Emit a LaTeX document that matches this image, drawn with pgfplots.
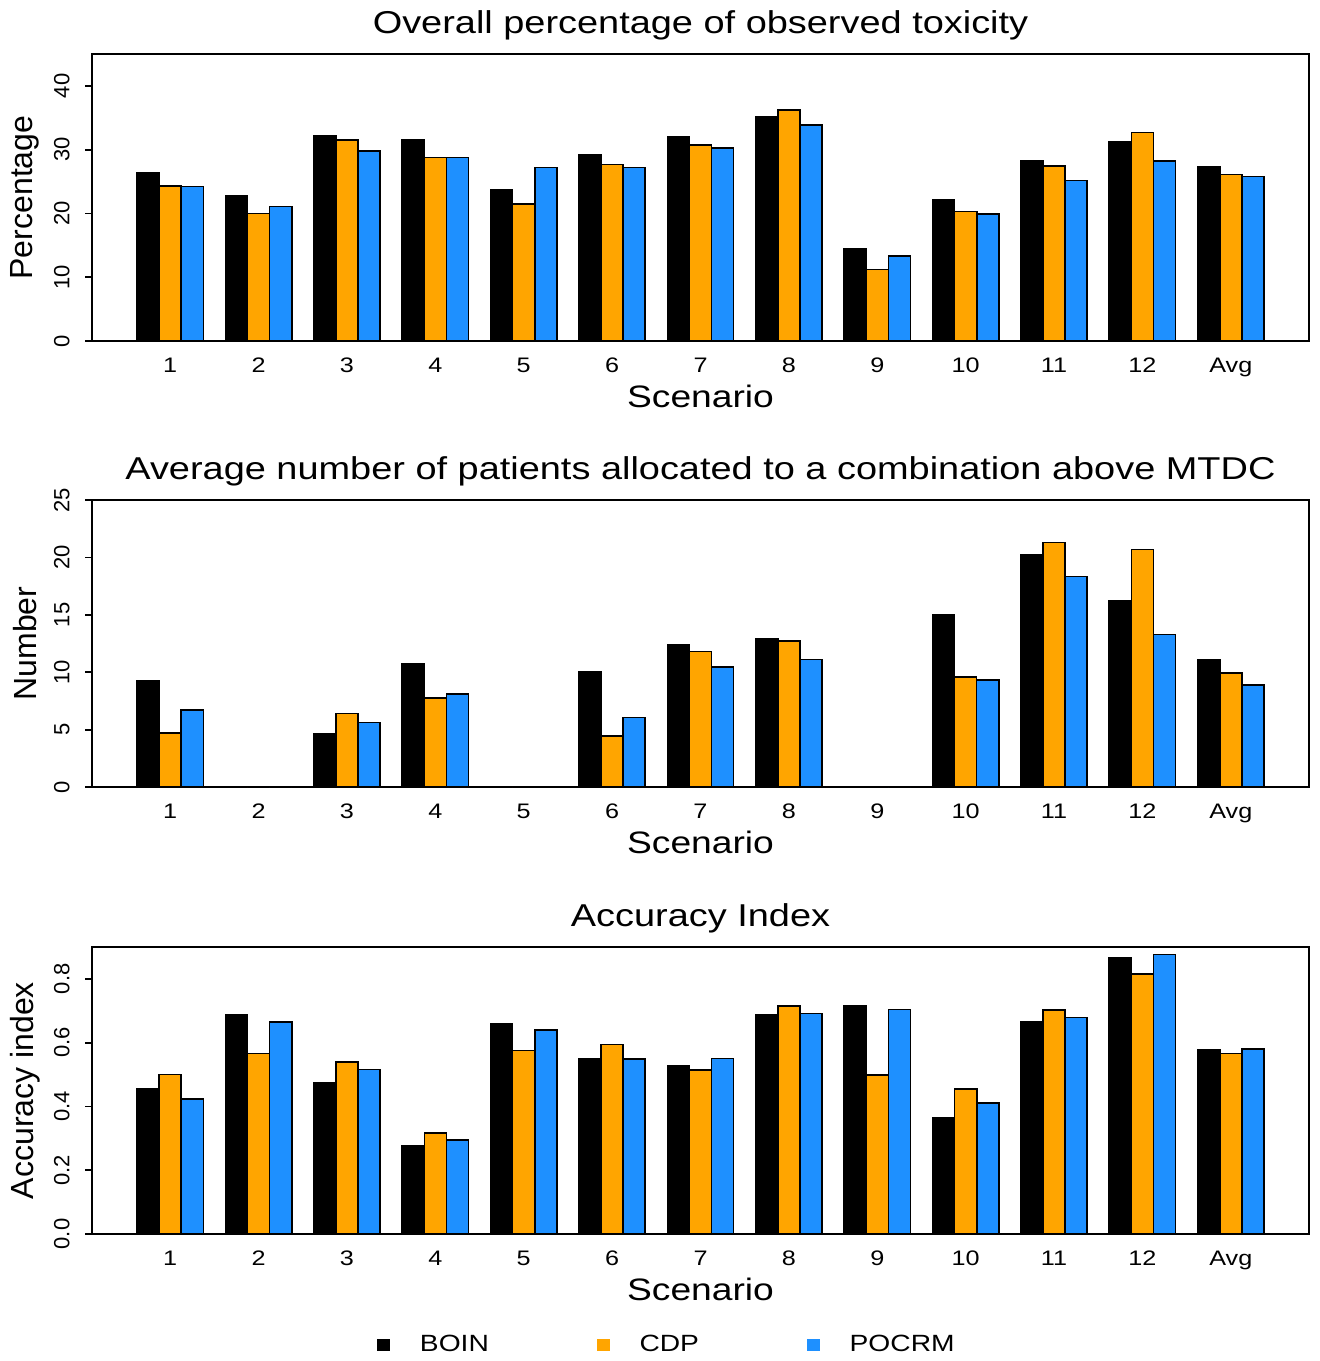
\documentclass[border=0pt]{standalone}
\usepackage{fontspec}
\setmainfont{Liberation Sans}
\newfontfamily\hfont[FakeStretch=1.2]{Liberation Sans}
\usepackage{pgfplots}
\pgfplotsset{compat=1.18}
\usepackage{pgfplotstable}
\definecolor{cdp}{HTML}{FFA500}
\definecolor{pocrm}{HTML}{1E90FF}

\pgfplotstableread{
x boin cdp pocrm
1 26.3 24.3 24.2
2 22.7 20.0 21.1
3 32.2 31.5 29.75
4 31.6 28.8 28.8
5 23.7 21.5 27.2
6 29.2 27.7 27.2
7 32.05 30.7 30.3
8 35.1 36.2 33.9
9 14.5 11.2 13.3
10 22.2 20.3 19.9
11 28.2 27.4 25.15
12 31.2 32.7 28.2
13 27.35 26.1 25.8
}\tox

\pgfplotstableread{
x boin cdp pocrm
1 9.28 4.73 6.71
2 0 0 0
3 4.64 6.39 5.63
4 10.74 7.73 8.11
5 0 0 0
6 10.04 4.46 6.04
7 12.43 11.79 10.44
8 12.92 12.72 11.11
9 0 0 0
10 14.97 9.57 9.31
11 20.2 21.3 18.35
12 16.25 20.68 13.3
13 11.11 9.92 8.9
}\num

\pgfplotstableread{
x boin cdp pocrm
1 0.456 0.500 0.424
2 0.686 0.566 0.665
3 0.475 0.540 0.516
4 0.277 0.316 0.294
5 0.659 0.576 0.640
6 0.550 0.594 0.549
7 0.528 0.515 0.551
8 0.687 0.715 0.691
9 0.716 0.498 0.704
10 0.365 0.454 0.411
11 0.666 0.702 0.679
12 0.865 0.816 0.877
13 0.577 0.566 0.581
}\acc

\pgfplotsset{
  every axis title shift=0pt,
  panel/.style={
    scale only axis, width=608.5pt, height=143.5pt,
    xmin=0.115, xmax=13.885, ymin=0,
    ybar=0pt, bar width=0.25,
    axis line style={line width=0.9pt},
    xtick={1,2,3,4,5,6,7,8,9,10,11,12,13},
    xticklabels={1,2,3,4,5,6,7,8,9,10,11,12,Avg},
    xtick style={draw=none},
    ytick pos=left,
    tick align=outside, major tick length=3.5pt,
    ytick style={line width=0.9pt, black},
    xticklabel style={font=\hfont\fontsize{10.5}{12}\selectfont, anchor=base},
    xticklabel shift=12pt,
    yticklabel style={font=\fontsize{11}{12}\selectfont, rotate=90, anchor=south, inner sep=0pt},
    yticklabel shift=7.5pt,
    title style={font=\hfont\fontsize{15.8}{18}\selectfont, at={(axis description cs:0.5,1.101)}, anchor=center},
    xlabel={Scenario},
    xlabel style={font=\hfont\fontsize{15.5}{18}\selectfont, at={(axis description cs:0.5,-0.1916)}, anchor=center},
    ylabel style={font=\fontsize{16}{18}\selectfont, at={(axis description cs:-0.0551,0.5)}, anchor=center},
    every axis plot/.append style={draw=black, line width=0.8pt},
    /pgf/number format/assume math mode=true,
  }
}

\begin{document}
\begin{tikzpicture}
\useasboundingbox (0,0) rectangle (659.5pt,-680.5pt);

\begin{axis}[panel, at={(46pt,-170.5pt)}, anchor=south west,
  ymax=45, ytick={0,10,20,30,40},
  title={Overall percentage of observed toxicity}, ylabel={Percentage}]
\addplot[fill=black] table[x=x,y=boin]{\tox};
\addplot[fill=cdp] table[x=x,y=cdp]{\tox};
\addplot[fill=pocrm] table[x=x,y=pocrm]{\tox};
\end{axis}

\begin{axis}[panel, at={(46pt,-393.5pt)}, anchor=south west,
  ymax=25, ytick={0,5,10,15,20,25},
  title={Average number of patients allocated to a combination above MTDC}, ylabel={Number}]
\addplot[fill=black] table[x=x,y=boin]{\num};
\addplot[fill=cdp] table[x=x,y=cdp]{\num};
\addplot[fill=pocrm] table[x=x,y=pocrm]{\num};
\end{axis}

\begin{axis}[panel, at={(46pt,-617pt)}, anchor=south west,
  ymax=0.9, ytick={0,0.2,0.4,0.6,0.8}, yticklabels={0.0,0.2,0.4,0.6,0.8},
  title={Accuracy Index}, ylabel={Accuracy index},
  legend style={at={(axis description cs:0.4733,-0.3868)}, anchor=center, draw=none, fill=none,
    legend columns=3, font=\hfont\fontsize{11.75}{14}\selectfont,
    /tikz/every odd column/.append style={column sep=13pt},
    /tikz/every even column/.append style={column sep=52pt}}]
\addplot[fill=black, legend image code/.code={\fill[black] (0pt,-2.75pt) rectangle (5.5pt,2.75pt);}] table[x=x,y=boin]{\acc};
\addlegendentry{BOIN}
\addplot[fill=cdp, legend image code/.code={\fill[cdp] (0pt,-2.75pt) rectangle (5.5pt,2.75pt);}] table[x=x,y=cdp]{\acc};
\addlegendentry{CDP}
\addplot[fill=pocrm, legend image code/.code={\fill[pocrm] (0pt,-2.75pt) rectangle (5.5pt,2.75pt);}] table[x=x,y=pocrm]{\acc};
\addlegendentry{POCRM}
\end{axis}
\end{tikzpicture}
\end{document}
